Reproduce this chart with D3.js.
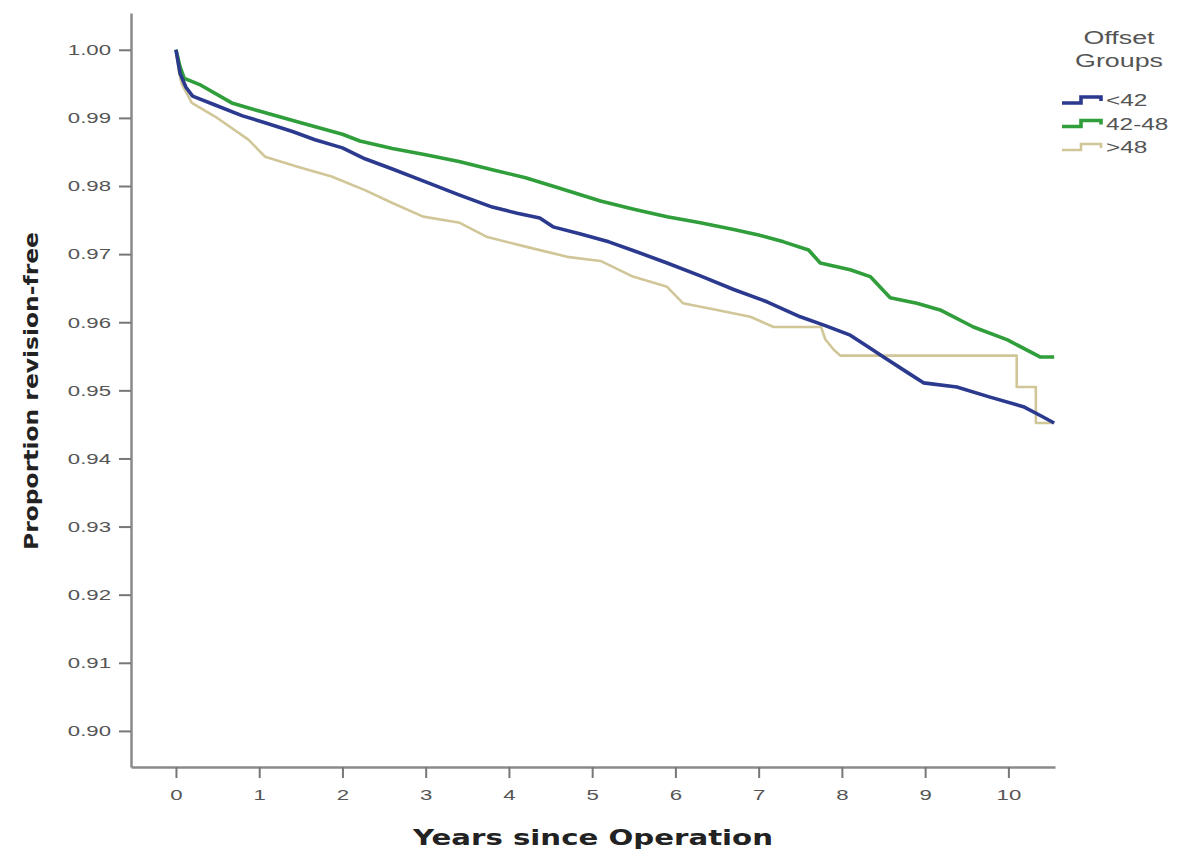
<!DOCTYPE html>
<html>
<head>
<meta charset="utf-8">
<script src="https://cdn.jsdelivr.net/npm/d3@7"></script>
<style>
body { margin:0; background:#fff; }
.tick text { font-family:"Liberation Sans", Arial, sans-serif; fill:#555; }
</style>
</head>
<body>
<svg id="svg1"></svg>
<script>
// Kaplan-Meier readings, one list of times and one of proportions per group
var groups = ["<42","42-48",">48"]

var lowTimes = [0,0.05,0.12,0.2,0.47,0.8,1.07,1.4,1.67,2.0,2.27,2.6,3.0,3.4,3.8,4.1,4.37,4.53,4.85,5.2,5.5,5.9,6.3,6.7,7.1,7.5,7.8,8.1,8.3,8.5,8.79,8.98,9.38,9.78,10.18,10.4,10.55]
var lowVals  = [1.000,0.9965,0.9945,0.9932,0.9919,0.9903,0.9893,0.9880,0.9868,0.9856,0.9840,0.9825,0.9806,0.9787,0.9769,0.9760,0.9753,0.9740,0.9730,0.9718,0.9705,0.9687,0.9668,0.9648,0.9630,0.9608,0.9595,0.9581,0.9565,0.9549,0.9526,0.9511,0.9505,0.9490,0.9476,0.9462,0.9452]

var midTimes = [0,0.05,0.1,0.3,0.67,1.0,1.5,2.0,2.21,2.6,3.0,3.4,3.8,4.2,4.6,5.1,5.5,5.9,6.3,6.7,7.0,7.3,7.6,7.74,8.1,8.34,8.58,8.9,9.18,9.58,9.99,10.38,10.55]
var midVals  = [1.000,0.9975,0.9958,0.9948,0.9922,0.9910,0.9893,0.9876,0.9866,0.9855,0.9846,0.9836,0.9824,0.9812,0.9797,0.9778,0.9766,0.9755,0.9746,0.9736,0.9728,0.9718,0.9706,0.9687,0.9677,0.9667,0.9636,0.9628,0.9618,0.9593,0.9574,0.9549,0.9549]

var highTimes = [0,0.04,0.07,0.19,0.47,0.87,1.07,1.47,1.87,2.27,2.6,2.97,3.41,3.74,4.2,4.7,5.1,5.49,5.9,6.09,6.5,6.9,7.18,7.75,7.8,7.9,7.98,10.1,10.1,10.33,10.33,10.55]
var highVals  = [1.000,0.9965,0.9950,0.9922,0.9902,0.9868,0.9843,0.9828,0.9814,0.9794,0.9775,0.9755,0.9746,0.9725,0.9711,0.9696,0.9690,0.9667,0.9652,0.9628,0.9618,0.9608,0.9593,0.9593,0.9575,0.9560,0.9551,0.9551,0.9505,0.9505,0.9452,0.9452]

var xTicks = [0,1,2,3,4,5,6,7,8,9,10]
var yTicks = [0.90,0.91,0.92,0.93,0.94,0.95,0.96,0.97,0.98,0.99,1.00]

var colors = ["#2b3a8e","#2f9e3b","#d0c698"]
var widths = [3.6,3.6,2.6]

// the source picture is stretched sideways, so text gets a horizontal scale
var stretch = 1.48

var makeTranslateString = function(x,y)
{
    return "translate("+x+","+y+")";
}

var stretchTicks = function(g)
{
    g.selectAll(".tick text")
    .attr("x",function(){ return +d3.select(this).attr("x")/stretch })
    .attr("transform","scale("+stretch+",1)")
}

var drawAxes = function(svg,xScale,yScale,graph,margins)
{
    var xAxis = d3.axisBottom(xScale)
    .tickValues(xTicks)
    .tickSizeInner(11)
    .tickSizeOuter(0)
    .tickPadding(11)
    var gx = svg.append("g")
    .attr("transform",makeTranslateString(0,margins.top+graph.height))
    .call(xAxis)
    gx.selectAll("text").style("font-size","15px")
    stretchTicks(gx)

    var yAxis = d3.axisLeft(yScale)
    .tickValues(yTicks)
    .tickFormat(d3.format(".2f"))
    .tickSizeInner(12)
    .tickSizeOuter(0)
    .tickPadding(8)
    var gy = svg.append("g")
    .attr("transform",makeTranslateString(margins.left,0))
    .call(yAxis)
    gy.selectAll("text").style("font-size","15px")
    stretchTicks(gy)

    svg.selectAll(".domain").attr("stroke","#8a8a8a").attr("stroke-width",2.5)
    svg.selectAll(".tick line").attr("stroke","#777").attr("stroke-width",2)
}

var drawCurves = function(svg,xScale,yScale)
{
    var series = [
        {times:lowTimes,vals:lowVals},
        {times:midTimes,vals:midVals},
        {times:highTimes,vals:highVals}
    ]
    var line = d3.line()
    .x(function(d){ return xScale(d[0]) })
    .y(function(d){ return yScale(d[1]) })

    // draw tan first so blue and green sit on top
    var order = [2,1,0]
    order.forEach(function(i)
    {
        var pts = d3.zip(series[i].times,series[i].vals)
        svg.append("path")
        .datum(pts)
        .attr("d",line)
        .attr("fill","none")
        .attr("stroke",colors[i])
        .attr("stroke-width",widths[i])
        .attr("stroke-linejoin","round")
    })
}

var drawLabels = function(svg)
{
    svg.append("text")
    .text("Years since Operation")
    .attr("x",593)
    .attr("y",845)
    .attr("text-anchor","middle")
    .attr("textLength",360)
    .attr("lengthAdjust","spacingAndGlyphs")
    .style("font-family","'DejaVu Sans', sans-serif")
    .style("font-weight","bold")
    .style("font-size","22px")
    .style("fill","#222")

    svg.append("text")
    .text("Proportion revision-free")
    .attr("text-anchor","middle")
    .attr("transform","translate(38,391) rotate(-90)")
    .attr("textLength",318)
    .attr("lengthAdjust","spacingAndGlyphs")
    .style("font-family","'DejaVu Sans', sans-serif")
    .style("font-weight","bold")
    .style("font-size","20px")
    .style("fill","#222")
}

var drawLegend = function(svg)
{
    var legend = svg.append("g")
    var titles = [{t:"Offset",y:44},{t:"Groups",y:67}]
    legend.selectAll(".ltitle")
    .data(titles)
    .enter()
    .append("text")
    .classed("ltitle",true)
    .text(function(d){ return d.t })
    .attr("text-anchor","middle")
    .attr("transform",function(d){ return makeTranslateString(1119,d.y)+" scale(1.45,1)" })
    .style("font-family","'Liberation Sans', Arial, sans-serif")
    .style("font-size","18.5px")
    .style("fill","#555")

    var entries = legend.selectAll(".entry")
    .data(groups)
    .enter()
    .append("g")
    .classed("entry",true)
    .attr("transform",function(d,i){ return makeTranslateString(1062,100+i*23.5) })

    entries.append("path")
    .attr("d","M0,3 H19 V-3 H39 V1")
    .attr("fill","none")
    .attr("stroke",function(d,i){ return colors[i] })
    .attr("stroke-width",function(d,i){ return widths[i] })

    entries.append("text")
    .text(function(d){ return d })
    .attr("transform","translate(44,6) scale("+stretch+",1)")
    .style("font-family","'Liberation Sans', Arial, sans-serif")
    .style("font-size","16.5px")
    .style("fill","#555")
}

var initGraph = function()
{
    var screen = {width:1184,height:855}
    var margins = {left:131,right:129,top:13,bottom:88}
    var graph = {
        width:screen.width-margins.left-margins.right,
        height:screen.height-margins.top-margins.bottom
    }
    var svg = d3.select("#svg1")
    .attr("width",screen.width)
    .attr("height",screen.height)

    var xScale = d3.scaleLinear()
    .domain([-0.54,10.56])
    .range([margins.left,margins.left+graph.width])

    var yScale = d3.scaleLinear()
    .domain([0.8947,1.0054])
    .range([margins.top+graph.height,margins.top])

    drawCurves(svg,xScale,yScale)
    drawAxes(svg,xScale,yScale,graph,margins)
    drawLabels(svg)
    drawLegend(svg)
}

initGraph()
</script>
</body>
</html>
